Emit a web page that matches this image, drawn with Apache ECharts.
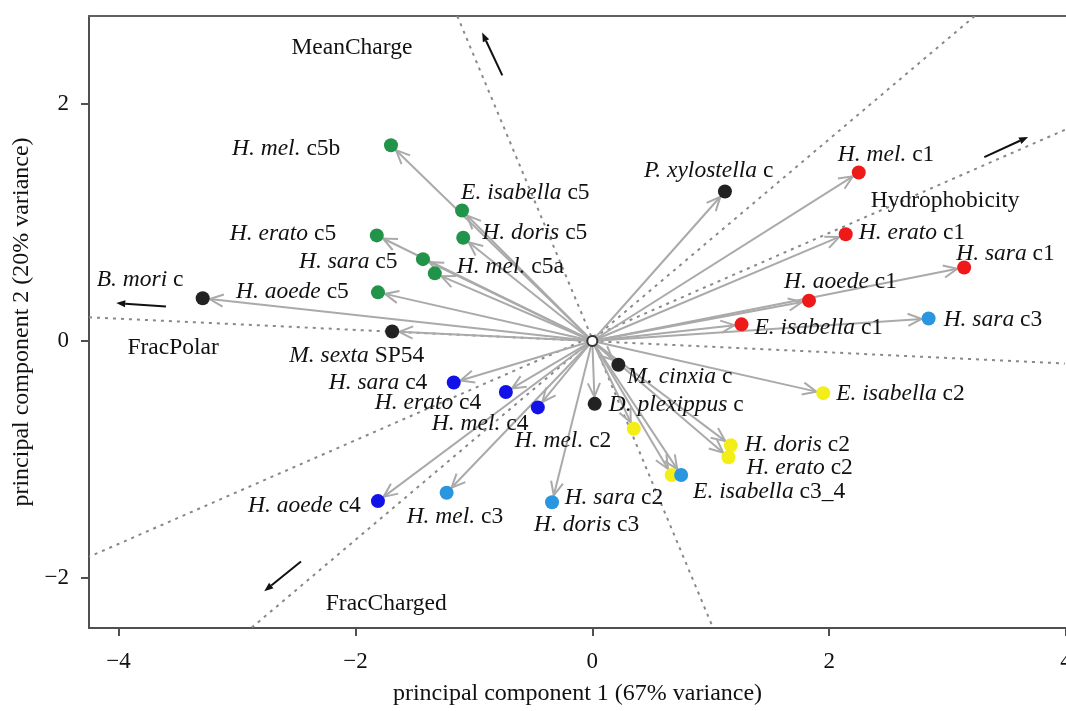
<!DOCTYPE html>
<html>
<head>
<meta charset="utf-8">
<script src="https://cdn.jsdelivr.net/npm/echarts@6/dist/echarts.min.js"></script>
<style>
  html, body { margin: 0; padding: 0; background: #fff; }
  #chart { width: 1066px; height: 711px; }
</style>
</head>
<body>
<div id="chart"></div>
<script>
// PCA scores of the peptides
const names = [
  'H. mel. c5b', 'E. isabella c5', 'H. doris c5', 'H. erato c5', 'H. sara c5', 'H. mel. c5a', 'H. aoede c5',
  'B. mori c', 'M. sexta SP54', 'P. xylostella c', 'M. cinxia c', 'D. plexippus c',
  'H. mel. c1', 'H. erato c1', 'H. sara c1', 'H. aoede c1', 'E. isabella c1',
  'H. sara c3', 'E. isabella c2', 'H. doris c2', 'H. erato c2', 'H. sara c2', 'E. isabella c3_4',
  'H. doris c3', 'H. mel. c3', 'H. mel. c2',
  'H. sara c4', 'H. erato c4', 'H. mel. c4', 'H. aoede c4'
]
const pc1 = [
  -1.70, -1.10, -1.09, -1.82, -1.43, -1.33, -1.81,
  -3.29, -1.69, 1.12, 0.22, 0.02,
  2.25, 2.14, 3.14, 1.83, 1.26,
  2.84, 1.95, 1.17, 1.15, 0.67, 0.75,
  -0.34, -1.23, 0.35,
  -1.17, -0.73, -0.46, -1.81
]
const pc2 = [
  1.65, 1.10, 0.87, 0.89, 0.69, 0.57, 0.41,
  0.36, 0.08, 1.26, -0.20, -0.53,
  1.42, 0.90, 0.62, 0.34, 0.14,
  0.19, -0.44, -0.88, -0.98, -1.13, -1.13,
  -1.36, -1.28, -0.74,
  -0.35, -0.43, -0.56, -1.35
]
const clades = [
  'c5', 'c5', 'c5', 'c5', 'c5', 'c5', 'c5',
  'other', 'other', 'other', 'other', 'other',
  'c1', 'c1', 'c1', 'c1', 'c1',
  'c3', 'c2', 'c2', 'c2', 'c2', 'c3',
  'c3', 'c3', 'c2',
  'c4', 'c4', 'c4', 'c4'
]

// variable loadings: dotted axis through origin, short arrow, label
const loadingNames = ['MeanCharge', 'Hydrophobicity', 'FracPolar', 'FracCharged']
const loadingLineFrom = [[-1.14, 2.74], [3.99, 1.78], [-4.25, 0.20], [3.23, 2.74]]
const loadingLineTo = [[1.02, -2.42], [-4.25, -1.82], [3.99, -0.19], [-2.88, -2.42]]
const loadingArrowFrom = [[-0.76, 2.24], [3.31, 1.55], [-3.60, 0.29], [-2.46, -1.86]]
const loadingArrowTo = [[-0.93, 2.60], [3.68, 1.72], [-4.02, 0.32], [-2.77, -2.11]]
const loadingLabelAt = [[-2.03, 2.47], [2.98, 1.18], [-3.54, -0.06], [-1.74, -2.22]]

const xTicks = [-4, -2, 0, 2, 4]
const yTicks = [-2, 0, 2]

// styling
const cladeColors = {
  c1: '#ee1a1a', c2: '#f3ee18', c3: '#2a96e0', c4: '#1212e8', c5: '#22944a', other: '#222222'
}
// label offsets in px from the point centre (left edge of text, vertical middle)
const labelOffsets = {
  'H. mel. c5b': [-159, 4], 'E. isabella c5': [-1, -18], 'H. doris c5': [19, -5],
  'H. erato c5': [-147, -2], 'H. sara c5': [-124, 3], 'H. mel. c5a': [22, -7],
  'H. aoede c5': [-142, -1], 'B. mori c': [-106, -18], 'M. sexta SP54': [-103, 24],
  'P. xylostella c': [-81, -21], 'M. cinxia c': [9, 12], 'D. plexippus c': [14, 1],
  'H. mel. c1': [-21, -18], 'H. erato c1': [13, -1], 'H. sara c1': [-8, -14],
  'H. aoede c1': [-25, -19], 'E. isabella c1': [13, 3], 'H. sara c3': [15, 1],
  'E. isabella c2': [13, 1], 'H. doris c2': [14, -1], 'H. erato c2': [18, 11],
  'H. sara c2': [-107, 23], 'E. isabella c3_4': [12, 17], 'H. doris c3': [-18, 23],
  'H. mel. c3': [-40, 24], 'H. mel. c2': [-119, 12], 'H. sara c4': [-125, 0],
  'H. erato c4': [-131, 11], 'H. mel. c4': [-106, 16], 'H. aoede c4': [-130, 5]
}
const dotSize = 14
const serif = '"Liberation Serif", "DejaVu Serif", serif'
const minus = v => String(v).replace('-', '\u2212')

const chart = echarts.init(document.getElementById('chart'))

function scoreArrow(params, api) {
  const o = api.coord([0, 0])
  const p = api.coord([api.value(0), api.value(1)])
  const dx = p[0] - o[0], dy = p[1] - o[1]
  const len = Math.hypot(dx, dy)
  const ux = dx / len, uy = dy / len
  const tip = [p[0] - ux * 7, p[1] - uy * 7]
  const head = 15, s = 0.42
  const bx = -ux, by = -uy
  const left = [tip[0] + head * (bx * Math.cos(s) - by * Math.sin(s)), tip[1] + head * (bx * Math.sin(s) + by * Math.cos(s))]
  const right = [tip[0] + head * (bx * Math.cos(-s) - by * Math.sin(-s)), tip[1] + head * (bx * Math.sin(-s) + by * Math.cos(-s))]
  const style = { stroke: '#aaaaaa', lineWidth: 2, fill: null }
  return {
    type: 'group',
    children: [
      { type: 'line', shape: { x1: o[0], y1: o[1], x2: tip[0], y2: tip[1] }, style: style },
      { type: 'polyline', shape: { points: [left, tip, right] }, style: style }
    ]
  }
}

function loadingLine(params, api) {
  const a = api.coord([api.value(0), api.value(1)])
  const b = api.coord([api.value(2), api.value(3)])
  return {
    type: 'line',
    shape: { x1: a[0], y1: a[1], x2: b[0], y2: b[1] },
    style: { stroke: '#888888', lineWidth: 2, lineDash: [3, 5] }
  }
}

function loadingArrow(params, api) {
  const a = api.coord([api.value(0), api.value(1)])
  const b = api.coord([api.value(2), api.value(3)])
  const dx = b[0] - a[0], dy = b[1] - a[1]
  const len = Math.hypot(dx, dy)
  const ux = dx / len, uy = dy / len
  const hl = 9, hw = 3.5
  const base = [b[0] - ux * hl, b[1] - uy * hl]
  return {
    type: 'group',
    children: [
      { type: 'line', shape: { x1: a[0], y1: a[1], x2: base[0], y2: base[1] }, style: { stroke: '#111', lineWidth: 2 } },
      {
        type: 'polygon',
        shape: { points: [b, [base[0] - uy * hw, base[1] + ux * hw], [base[0] + uy * hw, base[1] - ux * hw]] },
        style: { fill: '#111' }
      }
    ]
  }
}

const pointData = names.map((n, i) => {
  const k = n.lastIndexOf(' ')
  const off = labelOffsets[n]
  return {
    name: n,
    value: [pc1[i], pc2[i]],
    itemStyle: { color: cladeColors[clades[i]] },
    label: {
      position: [dotSize / 2 + off[0], dotSize / 2 + off[1]],
      formatter: '{i|' + n.slice(0, k) + '} ' + n.slice(k + 1)
    }
  }
})

chart.setOption({
  animation: false,
  grid: { left: 89, top: 16, right: 0, bottom: 83, containLabel: false, outerBoundsMode: 'none' },
  xAxis: [{
    type: 'value', min: -4.25, max: 4.0,
    name: 'principal component 1 (67% variance)',
    nameLocation: 'middle', nameGap: 54,
    nameTextStyle: { fontFamily: serif, fontSize: 24, color: '#111' },
    axisLine: { show: true, onZero: false, lineStyle: { color: '#505050', width: 2 } },
    axisTick: { show: true, customValues: xTicks, length: 8, lineStyle: { color: '#505050', width: 2 } },
    axisLabel: { customValues: xTicks, formatter: minus, margin: 22, fontFamily: serif, fontSize: 23, color: '#111' },
    splitLine: { show: false }
  }, {
    type: 'value', min: -4.25, max: 4.0, position: 'top',
    axisLine: { show: true, onZero: false, lineStyle: { color: '#606060', width: 2 } },
    axisTick: { show: false }, axisLabel: { show: false }, splitLine: { show: false }
  }],
  yAxis: {
    type: 'value', min: -2.42, max: 2.74,
    name: 'principal component 2 (20% variance)',
    nameLocation: 'middle', nameGap: 54,
    nameTextStyle: { fontFamily: serif, fontSize: 24, color: '#111' },
    axisLine: { show: true, onZero: false, lineStyle: { color: '#505050', width: 2 } },
    axisTick: { show: true, customValues: yTicks, length: 8, lineStyle: { color: '#505050', width: 2 } },
    axisLabel: { customValues: yTicks, formatter: minus, margin: 20, fontFamily: serif, fontSize: 23, color: '#111' },
    splitLine: { show: false }
  },
  series: [
    {
      type: 'custom', clip: true, silent: true, z: 1,
      renderItem: loadingLine,
      encode: { x: [0, 2], y: [1, 3] },
      data: loadingLineFrom.map((f, i) => [f[0], f[1], loadingLineTo[i][0], loadingLineTo[i][1]])
    },
    {
      type: 'custom', silent: true, z: 2,
      renderItem: scoreArrow,
      data: names.map((n, i) => [pc1[i], pc2[i]])
    },
    {
      type: 'custom', silent: true, z: 3,
      renderItem: loadingArrow,
      encode: { x: [0, 2], y: [1, 3] },
      data: loadingArrowFrom.map((f, i) => [f[0], f[1], loadingArrowTo[i][0], loadingArrowTo[i][1]])
    },
    {
      type: 'scatter', silent: true, z: 4,
      symbol: 'circle', symbolSize: 10,
      itemStyle: { color: '#fff', borderColor: '#333', borderWidth: 2, opacity: 1 },
      data: [[0, 0]]
    },
    {
      type: 'scatter', silent: true, z: 5,
      symbolSize: dotSize,
      itemStyle: { opacity: 1 },
      label: {
        show: true, align: 'left', verticalAlign: 'middle',
        fontFamily: serif, fontSize: 23.5, color: '#111',
        rich: { i: { fontFamily: serif, fontSize: 23.5, fontStyle: 'italic', color: '#111' } }
      },
      labelLayout: { hideOverlap: false },
      data: pointData
    },
    {
      type: 'scatter', silent: true, z: 5,
      symbolSize: 2,
      itemStyle: { color: 'rgba(0,0,0,0)', opacity: 1 },
      label: {
        show: true, position: 'inside', align: 'center', verticalAlign: 'middle',
        fontFamily: serif, fontSize: 23.5, color: '#111',
        formatter: p => p.name
      },
      data: loadingNames.map((n, i) => ({ name: n, value: loadingLabelAt[i] }))
    }
  ]
})
</script>
</body>
</html>
